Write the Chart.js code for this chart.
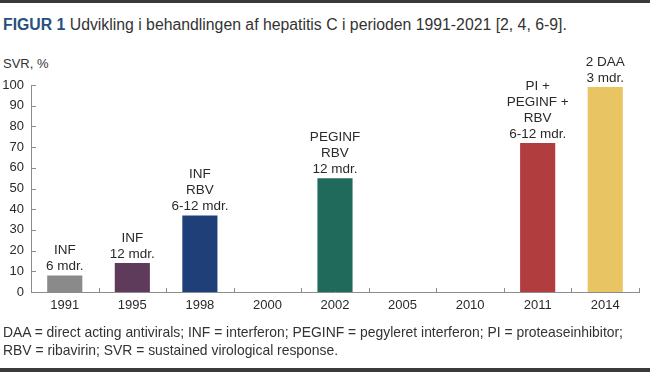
<!DOCTYPE html>
<html>
<head>
<meta charset="utf-8">
<script src="https://cdn.jsdelivr.net/npm/chart.js@4"></script>
<style>
  html, body { margin: 0; padding: 0; background: #fff; }
  body { width: 650px; height: 372px; position: relative; overflow: hidden;
         font-family: 'Liberation Sans', Arial, sans-serif; color: #333; }
  #topline { position: absolute; left: 0; top: 0; width: 650px; height: 3px; background: #3a3a3a; }
  #bottomline { position: absolute; left: 0; top: 368px; width: 650px; height: 4px; background: #3a3a3a; }
  #title { position: absolute; left: 3px; top: 16px; font-size: 15.8px; white-space: nowrap; }
  #title b { color: #27507e; }
  #unit { position: absolute; left: 3px; top: 56px; font-size: 13px; }
  #foot { position: absolute; left: 3px; top: 324px; font-size: 13.9px; line-height: 17.5px; white-space: nowrap; }
  #wrap { position: absolute; left: 0; top: 0; width: 650px; height: 372px; }
</style>
</head>
<body>
<div id="topline"></div>
<div id="title"><b>FIGUR 1</b> Udvikling i behandlingen af hepatitis C i perioden 1991-2021 [2, 4, 6-9].</div>
<div id="unit">SVR, %</div>
<div id="wrap"><canvas id="chart"></canvas></div>
<div id="foot">DAA = direct acting antivirals; INF = interferon; PEGINF = pegyleret interferon; PI = proteaseinhibitor;<br>RBV = ribavirin; SVR = sustained virological response.</div>
<div id="bottomline"></div>
<script>
const years = ['1991', '1995', '1998', '2000', '2002', '2005', '2010', '2011', '2014'];
const svr = [8, 14, 37, null, 55, null, null, 72, 99];
const treatments = [
    ['INF', '6 mdr.'],
    ['INF', '12 mdr.'],
    ['INF', 'RBV', '6-12 mdr.'],
    [],
    ['PEGINF', 'RBV', '12 mdr.'],
    [],
    [],
    ['PI +', 'PEGINF +', 'RBV', '6-12 mdr.'],
    ['2 DAA', '3 mdr.']
];
const barColors = ['#8a8a8a', '#5e3a5b', '#1f3f78', null, '#1f6a5b', null, null, '#b13d3e', '#e9c463'];

const font = "'Liberation Sans', Arial, sans-serif";

// short tick marks drawn inward from the axes
const innerTicks = {
    id: 'innerTicks',
    afterDraw(chart) {
        const c = chart.ctx;
        const x = chart.scales.x, y = chart.scales.y;
        c.save();
        c.strokeStyle = '#8c8c8c';
        c.lineWidth = 1;
        c.beginPath();
        y.ticks.forEach(t => {
            const py = Math.round(y.getPixelForValue(t.value)) + 0.5;
            c.moveTo(x.left, py);
            c.lineTo(x.left + 5, py);
        });
        const w = (x.right - x.left) / years.length;
        for (let i = 1; i <= years.length; i++) {
            const px = Math.round(x.left + i * w) + 0.5;
            c.moveTo(px, y.bottom);
            c.lineTo(px, y.bottom - 4);
        }
        c.stroke();
        c.restore();
    }
};

// treatment labels above each bar
const barLabels = {
    id: 'barLabels',
    afterDatasetsDraw(chart) {
        const c = chart.ctx;
        const meta = chart.getDatasetMeta(0);
        c.save();
        c.fillStyle = '#2a2a2a';
        c.font = '13.5px ' + font;
        c.textAlign = 'center';
        c.textBaseline = 'middle';
        meta.data.forEach((bar, i) => {
            if (svr[i] === null) return;
            const lines = treatments[i];
            const base = bar.y - 9;
            lines.forEach((txt, k) => {
                c.fillText(txt, bar.x, base - (lines.length - 1 - k) * 16);
            });
        });
        c.restore();
    }
};

new Chart(document.getElementById('chart'), {
    type: 'bar',
    data: {
        labels: years,
        datasets: [{
            data: svr,
            backgroundColor: barColors,
            borderWidth: 0,
            barPercentage: 0.52,
            categoryPercentage: 1
        }]
    },
    options: {
        responsive: true,
        maintainAspectRatio: false,
        animation: false,
        layout: { padding: { top: 85, right: 11, bottom: 0, left: 0 } },
        plugins: { legend: { display: false }, tooltip: { enabled: false } },
        scales: {
            x: {
                grid: { display: false, drawTicks: false },
                border: { display: true, color: '#8c8c8c', width: 1 },
                ticks: { color: '#2a2a2a', font: { family: font, size: 13 }, padding: 6, maxRotation: 0 },
                afterFit(s) { s.height = 80; }
            },
            y: {
                min: 0,
                max: 100,
                grid: { display: false, drawTicks: false },
                border: { display: true, color: '#8c8c8c', width: 1 },
                ticks: { stepSize: 10, color: '#2a2a2a', font: { family: font, size: 13 }, padding: 7 },
                afterFit(s) { s.width = 31; }
            }
        }
    },
    plugins: [innerTicks, barLabels]
});
</script>
</body>
</html>
